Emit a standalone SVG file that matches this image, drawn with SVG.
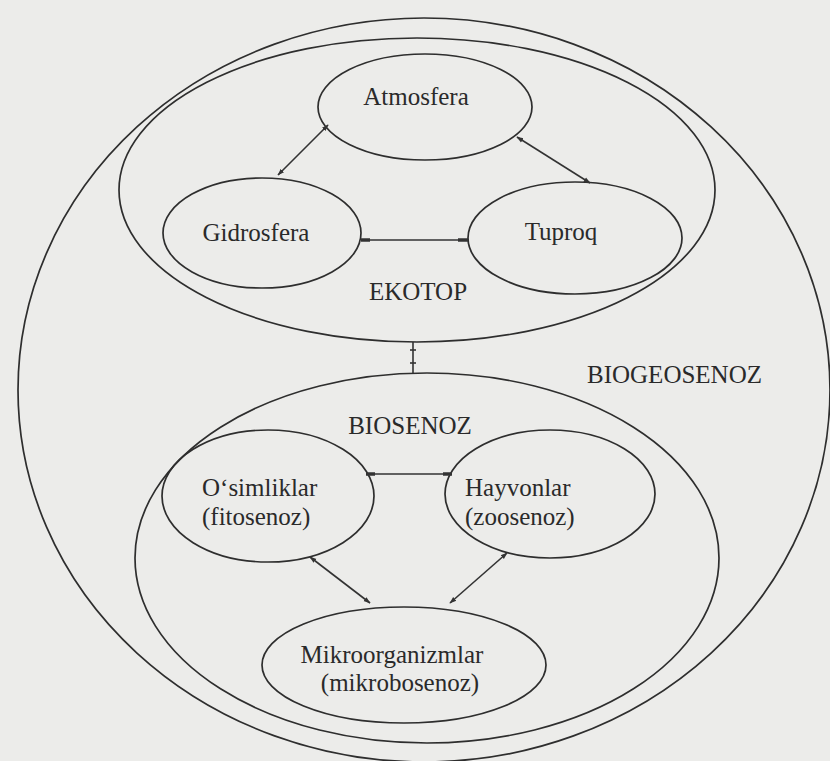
<svg xmlns="http://www.w3.org/2000/svg" width="830" height="761" viewBox="0 0 830 761">
<style>
.e{fill:none;stroke:#2e2e2e;stroke-width:1.7}
.t{font-family:"Liberation Serif","DejaVu Serif",serif;font-size:25px;fill:#2a2a2a}
.c{stroke:#333;stroke-width:1.6;fill:none}
.h{stroke:#333;stroke-width:3.5}
.m{fill:#333}
</style>
<defs>
<marker id="ah" viewBox="0 0 10 10" refX="9" refY="5" markerWidth="7" markerHeight="7" orient="auto-start-reverse" markerUnits="userSpaceOnUse">
<path d="M0,1.5 L10,5 L0,8.5 z" class="m"/>
</marker>
</defs>
<rect x="0" y="0" width="830" height="761" fill="#ececea"/>
<g id="biogeosenoz">
<ellipse class="e" cx="424" cy="390" rx="406" ry="372"/>
<text class="t" x="587" y="383">BIOGEOSENOZ</text>
</g>
<g id="ekotop">
<ellipse class="e" cx="417" cy="190" rx="298" ry="152"/>
<text class="t" x="418" y="300" text-anchor="middle">EKOTOP</text>
</g>
<g id="atmosfera">
<ellipse class="e" cx="425" cy="107" rx="107" ry="53"/>
<text class="t" x="416" y="105" text-anchor="middle">Atmosfera</text>
</g>
<g id="gidrosfera">
<ellipse class="e" cx="262" cy="233" rx="99" ry="55"/>
<text class="t" x="256" y="241" text-anchor="middle">Gidrosfera</text>
</g>
<g id="tuproq">
<ellipse class="e" cx="575" cy="238" rx="107" ry="56"/>
<text class="t" x="561" y="240" text-anchor="middle">Tuproq</text>
</g>
<g id="biosenoz">
<ellipse class="e" cx="427" cy="558" rx="292" ry="185"/>
<text class="t" x="410" y="434" text-anchor="middle">BIOSENOZ</text>
</g>
<g id="osimliklar">
<ellipse class="e" cx="268" cy="496" rx="106" ry="66"/>
<text class="t" x="202" y="496">O‘simliklar</text>
<text class="t" x="202" y="525">(fitosenoz)</text>
</g>
<g id="hayvonlar">
<ellipse class="e" cx="550" cy="494" rx="105" ry="64"/>
<text class="t" x="465" y="496">Hayvonlar</text>
<text class="t" x="465" y="525">(zoosenoz)</text>
</g>
<g id="mikroorganizmlar">
<ellipse class="e" cx="404" cy="665" rx="142" ry="58"/>
<text class="t" x="392" y="663" text-anchor="middle">Mikroorganizmlar</text>
<text class="t" x="400" y="691" text-anchor="middle">(mikrobosenoz)</text>
</g>
<g id="connectors">
<line class="c" x1="328" y1="125" x2="278" y2="175" marker-start="url(#ah)" marker-end="url(#ah)"/>
<line class="c" x1="517" y1="137" x2="590" y2="183" marker-start="url(#ah)" marker-end="url(#ah)"/>
<line class="c" x1="361" y1="240" x2="468" y2="240"/>
<line class="h" x1="361" y1="240" x2="370" y2="240"/>
<line class="h" x1="458" y1="240" x2="468" y2="240"/>
<line class="c" x1="413" y1="342" x2="413" y2="373"/>
<line class="c" x1="410" y1="350" x2="416" y2="350"/>
<line class="c" x1="410" y1="363" x2="416" y2="363"/>
<line class="c" x1="366" y1="474" x2="452" y2="474"/>
<line class="h" x1="366" y1="474" x2="375" y2="474"/>
<line class="h" x1="443" y1="474" x2="452" y2="474"/>
<line class="c" x1="310" y1="557" x2="370" y2="603" marker-start="url(#ah)" marker-end="url(#ah)"/>
<line class="c" x1="507" y1="553" x2="450" y2="603" marker-start="url(#ah)" marker-end="url(#ah)"/>
</g>
</svg>
